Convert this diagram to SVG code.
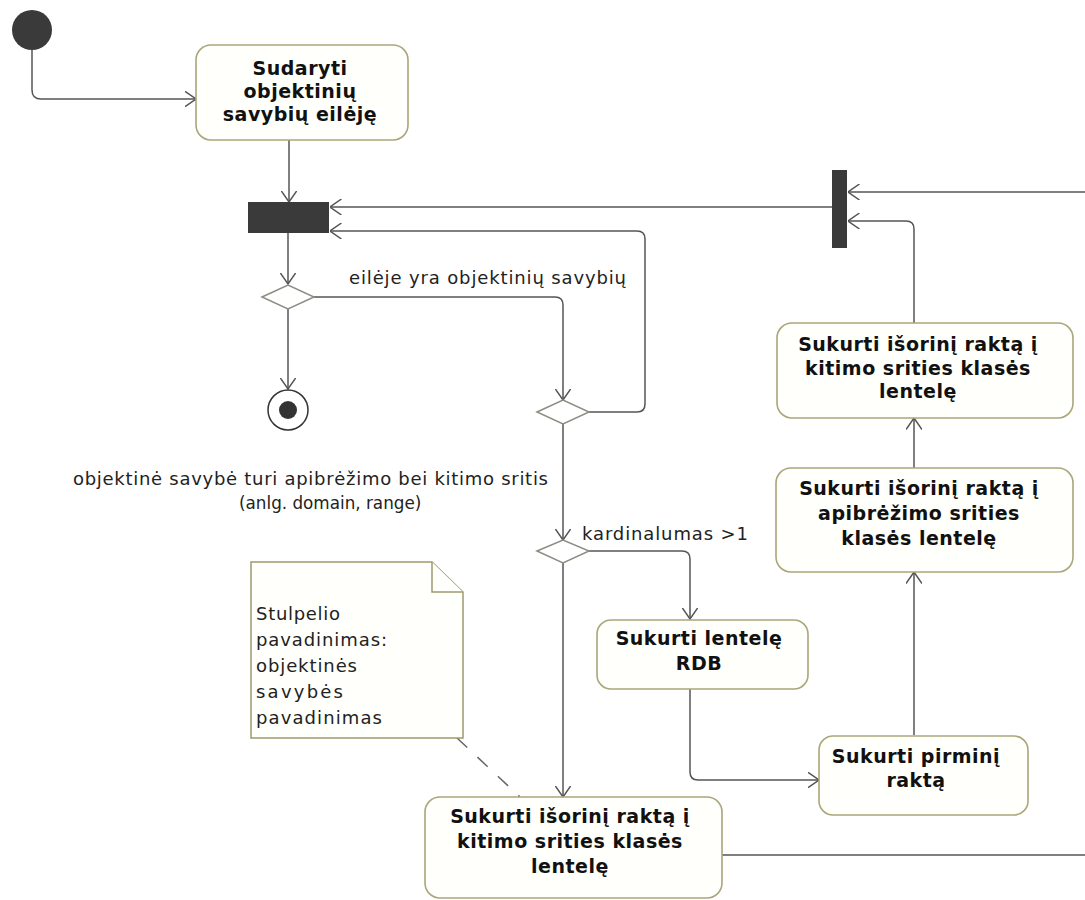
<svg xmlns="http://www.w3.org/2000/svg" width="1085" height="900" viewBox="0 0 1085 900">
  <style>
    .act { fill: #fffffb; stroke: #aaa67a; stroke-width: 1.6; }
    .note { fill: #fffffb; stroke: #9d9a6e; stroke-width: 1.5; }
    .dec { fill: #ffffff; stroke: #8c8c84; stroke-width: 1.5; }
    .bar { fill: #3a3a3a; }
    .edge { fill: none; stroke: #555555; stroke-width: 1.5; }
    .arrow { marker-end: url(#open); }
    .dash { fill: none; stroke: #666666; stroke-width: 1.5; stroke-dasharray: 14 14; }
    .t { font-family: "DejaVu Sans", "Liberation Sans", sans-serif; font-weight: bold; font-size: 19px; fill: #111111; text-anchor: middle; letter-spacing: 0.5px; }
    .l { font-family: "DejaVu Sans", "Liberation Sans", sans-serif; font-size: 18px; fill: #222222; }
  </style>
  <defs>
    <marker id="open" viewBox="0 0 12 16" refX="11.5" refY="8" markerWidth="12" markerHeight="16" markerUnits="userSpaceOnUse" orient="auto">
      <path d="M0,0 L11.5,8 L0,16" fill="none" stroke="#555555" stroke-width="1.5"/>
    </marker>
  </defs>
  <rect width="1085" height="900" fill="#ffffff"/>

  <!-- connectors -->
  <g id="connectors">
    <path class="edge arrow" d="M32,50 V90 Q32,99 41,99 H196"/>
    <path class="edge arrow" d="M289,140 V202"/>
    <path class="edge arrow" d="M288,233 V284"/>
    <path class="edge arrow" d="M288,309 V389"/>
    <path class="edge arrow" d="M313,297 H555 Q563,297 563,305 V400"/>
    <path class="edge arrow" d="M584,412 H637 Q645,412 645,404 V239 Q645,231 637,231 H330"/>
    <path class="edge arrow" d="M563,424 V540"/>
    <path class="edge arrow" d="M584,551 H682 Q690,551 690,559 V619"/>
    <path class="edge arrow" d="M563,563 V797"/>
    <path class="edge arrow" d="M690,689 V772 Q690,780 698,780 H819"/>
    <path class="edge arrow" d="M914,735 V572"/>
    <path class="edge arrow" d="M914,468 V418"/>
    <path class="edge arrow" d="M914,323 V229 Q914,221 906,221 H848"/>
    <path class="edge arrow" d="M1085,192 H848"/>
    <path class="edge arrow" d="M832,207 H330"/>
    <path class="edge" d="M722,855 H1085"/>
    <path class="dash" d="M457,738 L520,797"/>
  </g>

  <!-- guard labels -->
  <g id="labels">
    <text class="l" x="349" y="284" textLength="277" lengthAdjust="spacing">eilėje yra objektinių savybių</text>
    <text class="l" x="73" y="485" textLength="475" lengthAdjust="spacing">objektinė savybė turi apibrėžimo bei kitimo sritis</text>
    <text class="l" x="239" y="509" style="font-size:16.8px">(anlg. domain, range)</text>
    <text class="l" x="582" y="540" textLength="166" lengthAdjust="spacing">kardinalumas &gt;1</text>
  </g>

  <g id="start">
    <circle cx="32" cy="30" r="20" fill="#3a3a3a"/>
  </g>

  <g id="queue">
    <rect class="act" x="196" y="45" width="212" height="95" rx="15"/>
    <text class="t" x="300" y="75">Sudaryti</text>
    <text class="t" x="300" y="98">objektinių</text>
    <text class="t" x="300" y="121">savybių eilėję</text>
  </g>

  <g id="join-left">
    <rect class="bar" x="248" y="202" width="81" height="31"/>
  </g>

  <g id="join-right">
    <rect class="bar" x="832" y="170" width="15" height="78"/>
  </g>

  <g id="decision-queue">
    <polygon class="dec" points="262,297 288,285 314,297 288,309"/>
  </g>

  <g id="end">
    <circle cx="288" cy="410" r="20" fill="#ffffff" stroke="#333333" stroke-width="1.5"/>
    <circle cx="288" cy="410" r="9" fill="#333333"/>
  </g>

  <g id="decision-domain">
    <polygon class="dec" points="537,412 563,400 589,412 563,424"/>
  </g>

  <g id="decision-cardinality">
    <polygon class="dec" points="533,551 559,540 585,551 559,563" transform="translate(4,0)"/>
  </g>

  <g id="create-table">
    <rect class="act" x="597" y="620" width="211" height="69" rx="14"/>
    <text class="t" x="699" y="645">Sukurti lentelę</text>
    <text class="t" x="699" y="670">RDB</text>
  </g>

  <g id="primary-key">
    <rect class="act" x="819" y="736" width="209" height="79" rx="14"/>
    <text class="t" x="916" y="763">Sukurti pirminį</text>
    <text class="t" x="916" y="787">raktą</text>
  </g>

  <g id="fk-domain">
    <rect class="act" x="776" y="468" width="297" height="104" rx="15"/>
    <text class="t" x="919" y="495">Sukurti išorinį raktą į</text>
    <text class="t" x="919" y="520">apibrėžimo srities</text>
    <text class="t" x="919" y="545">klasės lentelę</text>
  </g>

  <g id="fk-range-right">
    <rect class="act" x="777" y="323" width="296" height="95" rx="15"/>
    <text class="t" x="918" y="351">Sukurti išorinį raktą į</text>
    <text class="t" x="918" y="375">kitimo srities klasės</text>
    <text class="t" x="918" y="398">lentelę</text>
  </g>

  <g id="fk-range-bottom">
    <rect class="act" x="425" y="797" width="297" height="101" rx="15"/>
    <text class="t" x="570" y="823">Sukurti išorinį raktą į</text>
    <text class="t" x="570" y="848">kitimo srities klasės</text>
    <text class="t" x="570" y="873">lentelę</text>
  </g>

  <g id="column-note">
    <path class="note" d="M251,562 H432 L463,592 V738 H251 Z"/>
    <path class="note" d="M432,562 V592 H463" fill="none"/>
    <text class="l" x="256" y="620" textLength="84" lengthAdjust="spacing">Stulpelio</text>
    <text class="l" x="256" y="646" textLength="131" lengthAdjust="spacing">pavadinimas:</text>
    <text class="l" x="256" y="672" textLength="101" lengthAdjust="spacing">objektinės</text>
    <text class="l" x="256" y="698" textLength="87" lengthAdjust="spacing">savybės</text>
    <text class="l" x="256" y="724" textLength="126" lengthAdjust="spacing">pavadinimas</text>
  </g>
</svg>
